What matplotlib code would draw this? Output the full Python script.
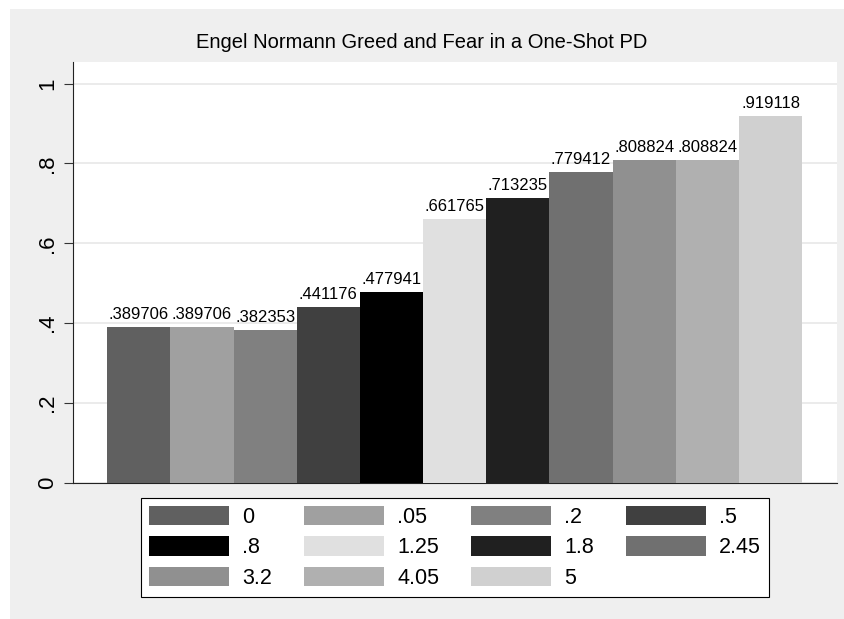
import matplotlib
matplotlib.use("Agg")
import matplotlib.pyplot as plt
from matplotlib.patches import Rectangle, Patch

plt.rcParams['font.family'] = ['Liberation Sans', 'DejaVu Sans']

# data
groups = ['0', '.05', '.2', '.5', '.8', '1.25', '1.8', '2.45', '3.2', '4.05', '5']
values = [0.389706, 0.389706, 0.382353, 0.441176, 0.477941, 0.661765,
          0.713235, 0.779412, 0.808824, 0.808824, 0.919118]
colors = ['#606060', '#a0a0a0', '#808080', '#404040', '#000000', '#e0e0e0',
          '#202020', '#707070', '#909090', '#b0b0b0', '#d0d0d0']
yticks = [0, 0.2, 0.4, 0.6, 0.8, 1]
ytick_labels = ['0', '.2', '.4', '.6', '.8', '1']
title = 'Engel Normann Greed and Fear in a One-Shot PD'

W, H = 844, 619
fig = plt.figure(figsize=(W / 100, H / 100), dpi=100, facecolor='white')
# stata-like grey graph region
fig.patches.append(Rectangle((10 / W, 0), 1, 1 - 9 / H, transform=fig.transFigure,
                             facecolor='#efefef', edgecolor='none', zorder=-10))

ax = fig.add_axes([73 / W, (H - 483) / H, 764 / W, 421 / H])
ax.set_facecolor('white')

x = list(range(len(values)))
bars = ax.bar(x, values, width=1.0, color=colors, edgecolor='none', zorder=3)
ax.bar_label(bars, labels=[f"{v:.6f}".lstrip('0') for v in values],
             padding=3.5, fontsize=12, color='black', zorder=4)

ax.set_xlim(-1.04, 11.05)
ax.set_ylim(0, 1.054)
ax.set_xticks([])
ax.set_yticks(yticks)
ax.set_yticklabels(ytick_labels, rotation=90, va='center', fontsize=16)
ax.tick_params(axis='y', direction='out', length=6.5, width=0.8, color='#333333', pad=4)
ax.yaxis.grid(True, color='#e8e8e8', linewidth=1.2, zorder=0)
ax.set_axisbelow(True)

for s in ['top', 'right']:
    ax.spines[s].set_visible(False)
for s in ['left', 'bottom']:
    ax.spines[s].set_color('#222222')
    ax.spines[s].set_linewidth(0.8)

fig.text(422 / W, 1 - 42 / H, title, ha='center', va='center', fontsize=14.5)

# legend is filled row by row in the original, matplotlib fills columns
ncol = 4
order = [i for c in range(ncol) for i in range(c, len(groups), ncol)]
handles = [Patch(facecolor=colors[i], edgecolor='none') for i in order]
labels = [groups[i] for i in order]
leg = fig.legend(handles, labels, ncol=ncol, loc='upper center',
                 bbox_to_anchor=(455 / W, 1 - 498 / H), fontsize=15.5,
                 frameon=True, fancybox=False, framealpha=1, edgecolor='black',
                 handlelength=3.72, handleheight=1.0, handletextpad=0.6,
                 columnspacing=1.49, labelspacing=0.38, borderpad=0.38,
                 borderaxespad=0)
leg.get_frame().set_linewidth(0.8)

fig.savefig('out.png', dpi=100, facecolor=fig.get_facecolor())
